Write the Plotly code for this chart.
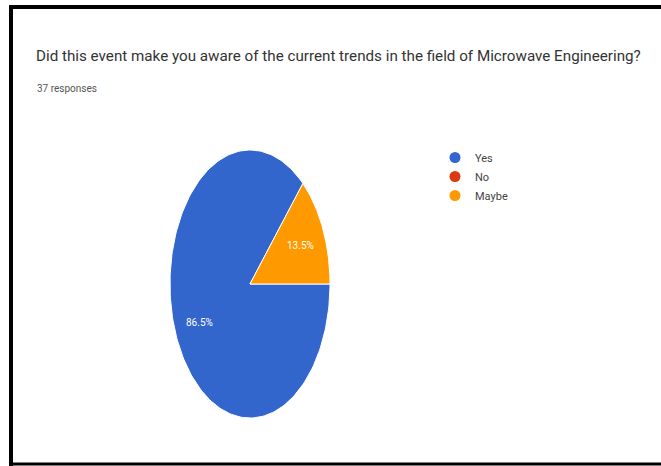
import numpy as np
import plotly.graph_objects as go

# ---- data ----
title_text = "Did this event make you aware of the current trends in the field of Microwave Engineering?"
subtitle_text = "37 responses"
categories = ["Yes", "No", "Maybe"]
values = [86.5, 0.0, 13.5]          # percent
colors = ["#3366CC", "#DC3912", "#FF9900"]

# ---- layout constants (pixels) ----
W, H = 661, 466
cx, cy = 250, 284         # pie centre
rx, ry = 80, 134          # stretched pie radii
label_r = 0.69

fig = go.Figure()

total = sum(values)
start = 0.0  # degrees, 3 o'clock, going clockwise
for name, v, col in zip(categories, values, colors):
    sweep = 360.0 * v / total
    if sweep > 0:
        th = np.radians(np.linspace(start, start - sweep, 200))
        xs = np.concatenate([[cx], cx + rx * np.cos(th), [cx]])
        ys = np.concatenate([[cy], cy - ry * np.sin(th), [cy]])
        fig.add_trace(go.Scatter(
            x=xs, y=ys, mode="lines", fill="toself", fillcolor=col,
            line=dict(color="white", width=1), showlegend=False,
            hoverinfo="text", text=f"{name}: {v}%"))
        mid = np.radians(start - sweep / 2)
        fig.add_annotation(
            x=cx + label_r * rx * np.cos(mid), y=cy - label_r * ry * np.sin(mid),
            text=f"{v:.1f}%", showarrow=False,
            font=dict(family="Roboto", size=10, color="white"))
    start -= sweep

# legend entries
for name, col in zip(categories, colors):
    fig.add_trace(go.Scatter(
        x=[None], y=[None], mode="markers", name=name,
        marker=dict(color=col, size=11, symbol="circle")))

fig.update_layout(
    width=W, height=H,
    margin=dict(l=0, r=0, t=0, b=0),
    paper_bgcolor="white", plot_bgcolor="white",
    xaxis=dict(range=[0, W], visible=False, fixedrange=True),
    yaxis=dict(range=[H, 0], visible=False, fixedrange=True),
    showlegend=True,
    legend=dict(x=435 / W, y=1 - 143 / H, xanchor="left", yanchor="top",
                font=dict(family="Roboto", size=11, color="#444"),
                bgcolor="rgba(0,0,0,0)", tracegroupgap=0),
    annotations=list(fig.layout.annotations) + [
        dict(x=34 / W, y=1 - 56 / H, xref="paper", yref="paper",
             xanchor="left", yanchor="middle", showarrow=False,
             text=title_text,
             font=dict(family="Roboto", size=15.2, color="#333333")),
        dict(x=35 / W, y=1 - 88 / H, xref="paper", yref="paper",
             xanchor="left", yanchor="middle", showarrow=False,
             text=subtitle_text,
             font=dict(family="Roboto", size=10, color="#555555")),
    ],
    shapes=[
        dict(type="line", xref="paper", yref="paper",
             x0=10 / W, x1=1.02, y0=1 - 7 / H, y1=1 - 7 / H,
             line=dict(color="black", width=4)),
        dict(type="line", xref="paper", yref="paper",
             x0=11 / W, x1=11 / W, y0=1 - 5 / H, y1=1 - 466 / H,
             line=dict(color="black", width=4)),
        dict(type="line", xref="paper", yref="paper",
             x0=9 / W, x1=1.02, y0=1 - 464 / H, y1=1 - 464 / H,
             line=dict(color="black", width=3)),
    ],
)

fig.write_html("out.html")
